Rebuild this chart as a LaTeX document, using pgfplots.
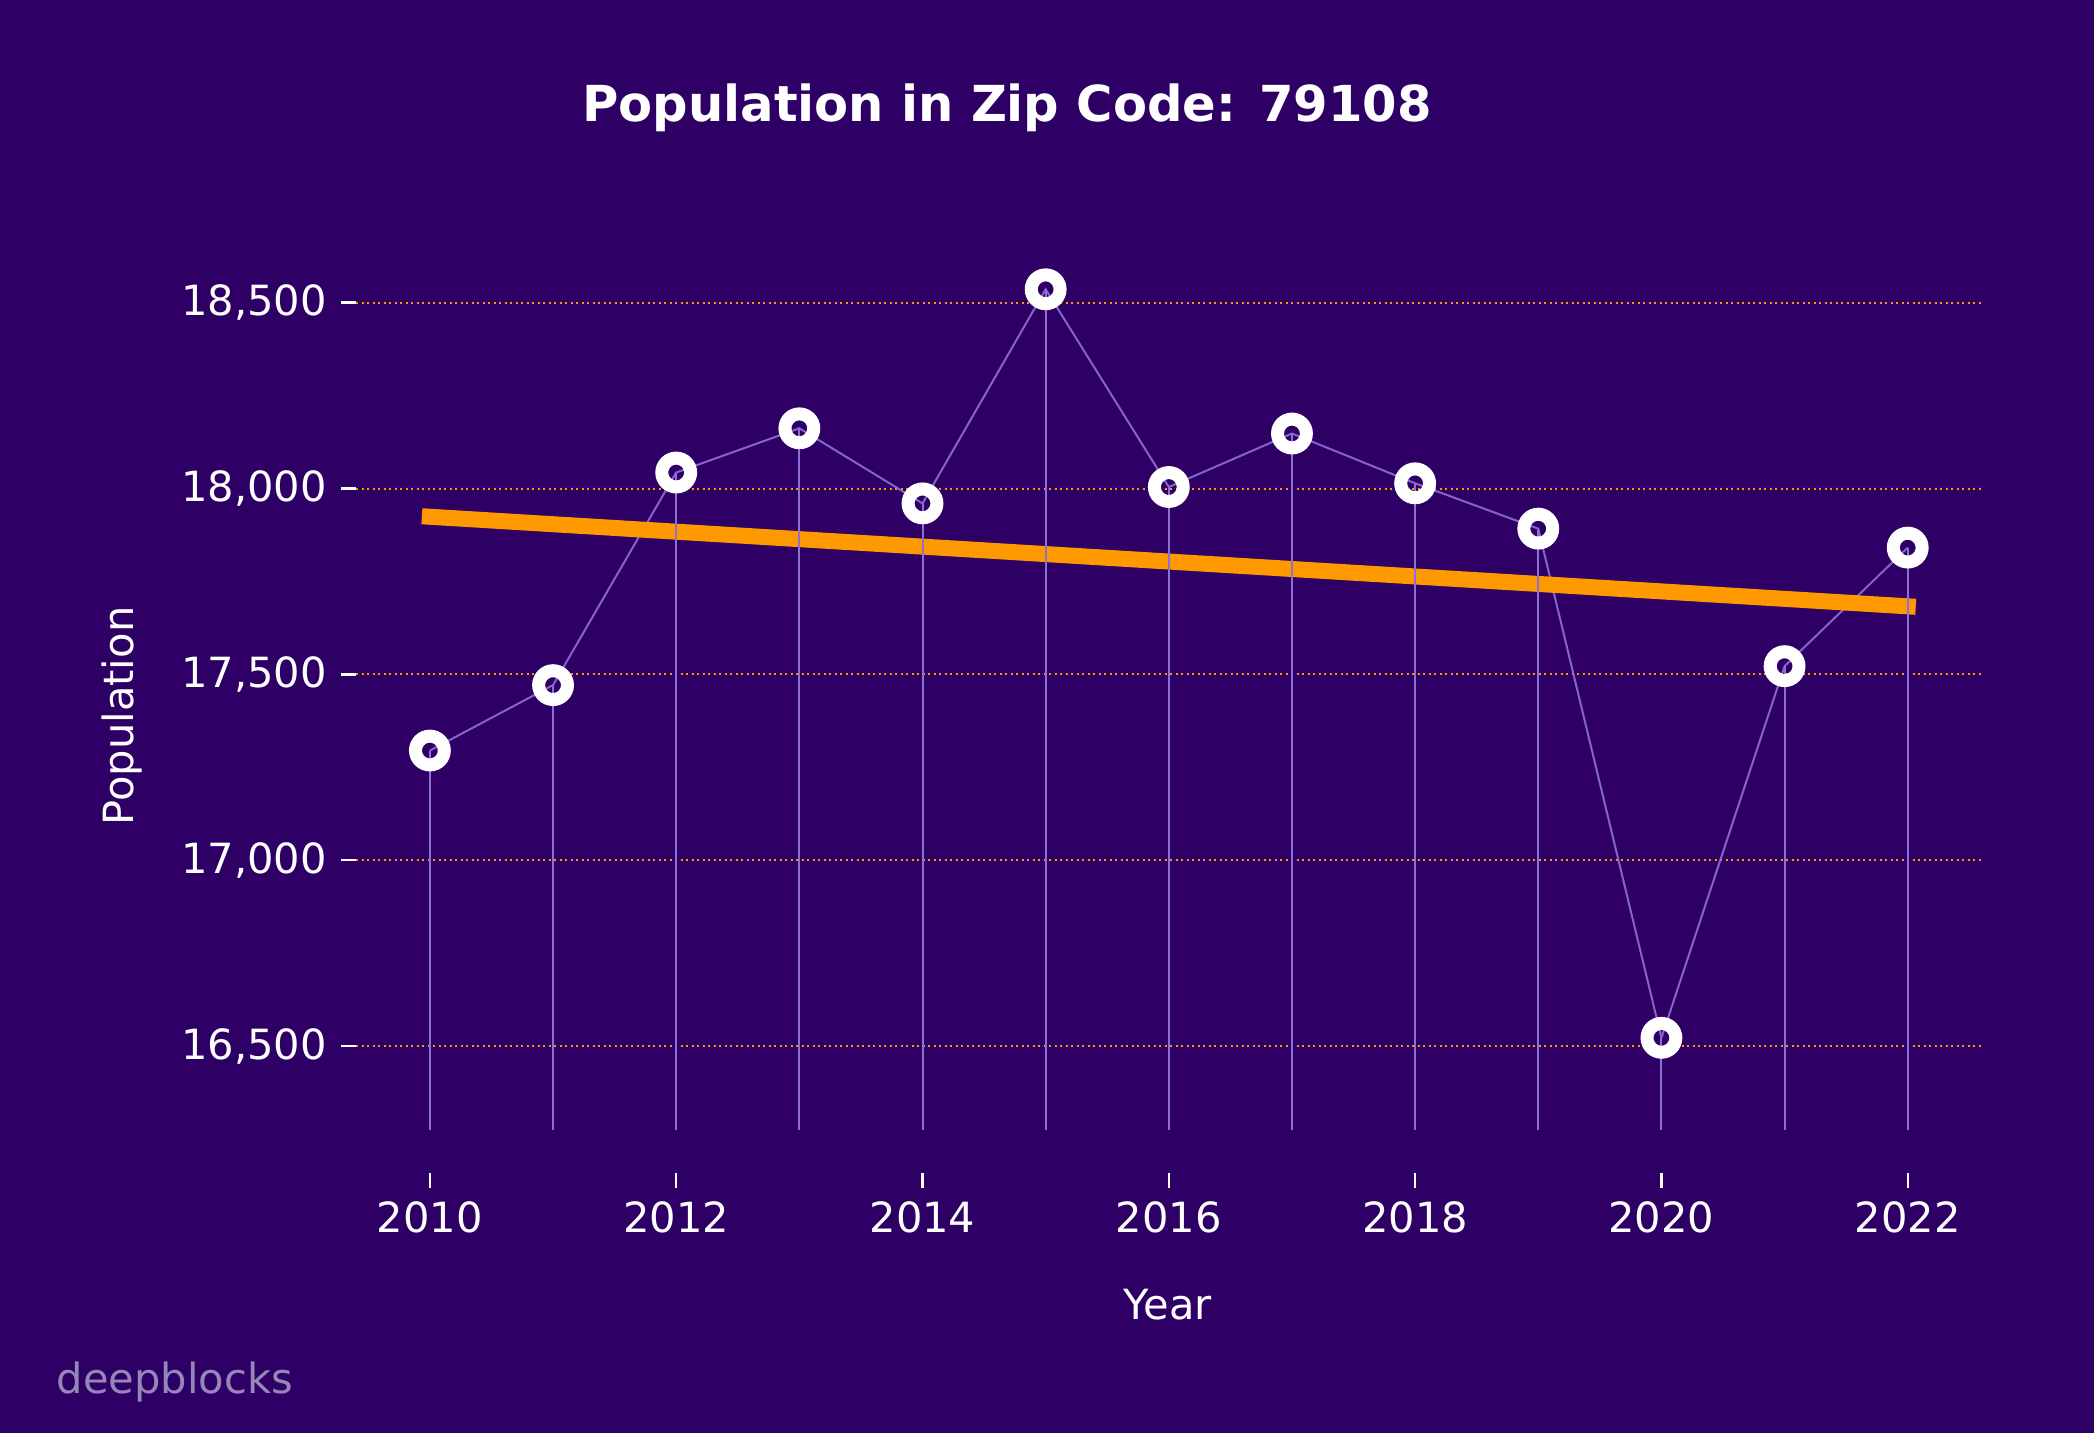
\documentclass[border=0pt]{standalone}
\usepackage{pgfplots}
\pgfplotsset{compat=1.18}
\usepackage{fontspec}
\setmainfont{DejaVu Sans}
\definecolor{bg}{RGB}{46,0,102}
\definecolor{stemc}{RGB}{140,112,214}
\definecolor{trendc}{RGB}{255,153,0}
\definecolor{wm}{RGB}{150,135,185}
\pgfplotstableread{
year pop
2010 17295
2011 17471
2012 18043
2013 18162
2014 17960
2015 18536
2016 18004
2017 18148
2018 18014
2019 17892
2020 16522
2021 17522
2022 17841
}\popdata
\pgfplotstableread{
year pop
2010 17924
2022 17683
}\trenddata
\begin{document}
\begin{tikzpicture}
\fill[bg] (0,0) rectangle (523.5pt,358.25pt);
\useasboundingbox (0,0) rectangle (523.5pt,358.25pt);
\begin{axis}[
  at={(89pt,75.75pt)}, anchor=south west,
  scale only axis, width=406.4pt, height=236pt,
  xmin=2009.4, xmax=2022.6, ymin=16274, ymax=18814,
  axis line style={draw=none},
  xtick={2010,2012,...,2022},
  ytick={16500,17000,...,18500},
  scaled y ticks=false, scaled x ticks=false,
  ymajorgrids,
  grid style={trendc, line width=0.5pt, dash pattern=on 0.5pt off 0.875pt},
  tick style={white, line width=0.6pt},
  major tick length=3.75pt,
  tick align=outside,
  xtick pos=bottom, ytick pos=left,
  xtick style={yshift=-10.7pt},
  xticklabel style={yshift=-10.7pt},
  ticklabel style={font=\fontsize{10.4}{12}\selectfont, text=white},
  /pgf/number format/assume math mode=true,
  x tick label style={/pgf/number format/1000 sep={}},
  y tick label style={/pgf/number format/1000 sep={,}},
]
\addplot[only marks, mark=o, mark size=3.6pt, mark options={draw=white, line width=3.25pt, fill=none}] table[x=year,y=pop] {\popdata};
\addplot[stemc, line width=0.5pt, no marks, opacity=0.9] table[x=year,y=pop] {\popdata};
\addplot[trendc, line width=4pt, line cap=rect, no marks] table[x=year,y=pop] {\trenddata};
\addplot[stemc, line width=0.5pt, ycomb, no marks] table[x=year,y=pop] {\popdata};
\end{axis}
\node[text=white, font=\bfseries\fontsize{12.4}{14}\selectfont] at (251.75pt,331.25pt) {Population in Zip Code: 79108};
\node[text=white, font=\fontsize{10.4}{12}\selectfont, rotate=90] at (30.5pt,179.25pt) {Population};
\node[text=white, font=\fontsize{10.4}{12}\selectfont] at (292pt,32pt) {Year};
\node[text=wm, font=\fontsize{10.4}{12}\selectfont, anchor=west, inner sep=0pt] at (14pt,12.75pt) {deepblocks};
\end{tikzpicture}
\end{document}
